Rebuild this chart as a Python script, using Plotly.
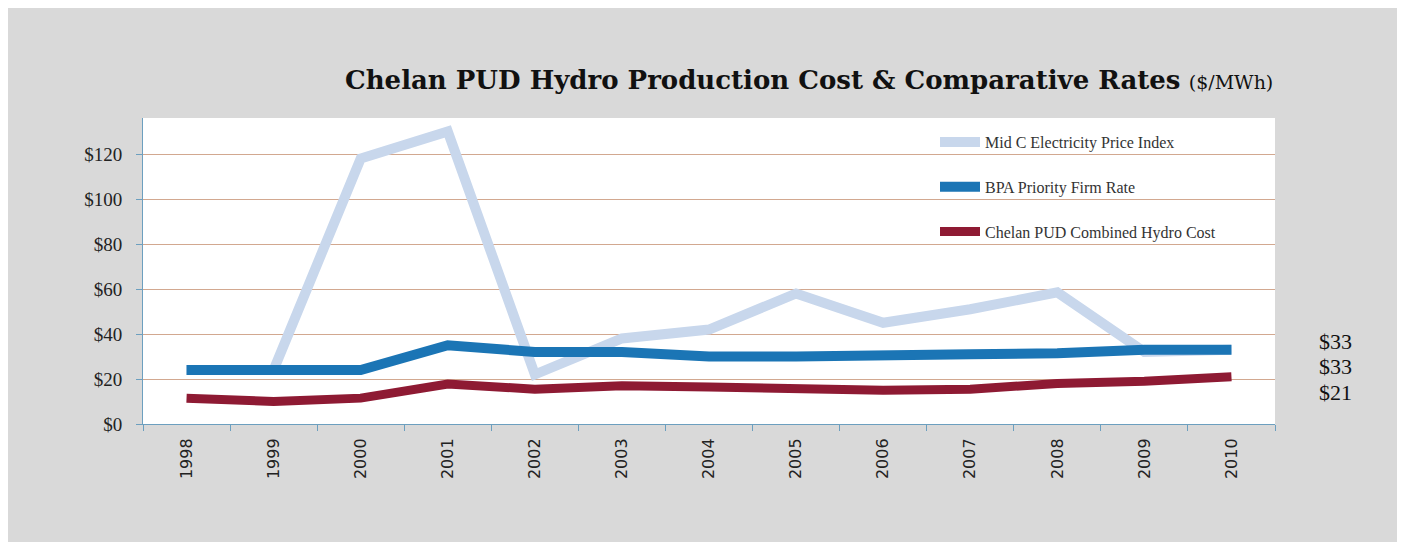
import plotly.graph_objects as go

years = ["1998", "1999", "2000", "2001", "2002", "2003", "2004", "2005", "2006", "2007", "2008", "2009", "2010"]
mid_c = [24, 24, 118, 130, 22, 38, 42, 58, 45, 51, 58.5, 32, 33]
bpa = [24, 24, 24, 35, 32, 32, 30, 30, 30, 31, 31.5, 33, 33]
chelan = [11.5, 10, 11.5, 17.8, 15.5, 17, 16.5, 15.5, 15, 15.5, 18, 19, 21]
y_ticks = [0, 20, 40, 60, 80, 100, 120]
y_tick_labels = ["$0", "$20", "$40", "$60", "$80", "$100", "$120"]

names = ["Mid C Electricity Price Index", "BPA Priority Firm Rate", "Chelan PUD Combined Hydro Cost"]
colors = ["#c8d7ec", "#1b75b5", "#8e1a33"]
widths = [10, 10, 9]

W, H = 1405, 542
OFF = 8  # page body margin
# plot area in screen pixels
L, R, T, B = 143 - OFF, 1275 - OFF, 118 - OFF, 424 - OFF


def px_x(p):
    return (p - OFF - L) / (R - L)


def px_y(p):
    return (B - (p - OFF)) / (B - T)


fig = go.Figure()
for i, (name, vals) in enumerate(zip(names, [mid_c, bpa, chelan])):
    fig.add_trace(go.Scatter(
        x=years, y=vals, mode="lines", name=name,
        line=dict(color=colors[i], width=widths[i]),
        legendgroup=f"g{i}",
    ))

axis_col = "#6c9fbf"
grid_col = "#d2a890"

fig.update_layout(
    width=W, height=H,
    margin=dict(l=L, r=W - R, t=T, b=H - B),
    paper_bgcolor="#d9d9d9",
    plot_bgcolor="#ffffff",
    showlegend=True,
    legend=dict(
        x=px_x(935), y=px_y(125), xanchor="left", yanchor="top",
        bgcolor="rgba(0,0,0,0)",
        font=dict(family="Liberation Serif", size=16, color="#333333"),
        tracegroupgap=21,
        itemwidth=40,
    ),
    xaxis=dict(
        type="category",
        showgrid=False,
        showline=True, linecolor=axis_col, linewidth=1,
        ticks="outside", ticklen=6, tickcolor=axis_col, tickson="boundaries",
        tickangle=-90,
        tickfont=dict(family="DejaVu Sans", size=16, color="#222222"),
        ticklabelstandoff=7,
        range=[-0.5, len(years) - 0.5],
    ),
    yaxis=dict(
        range=[0, (B - T) / 2.25],
        tickvals=y_ticks, ticktext=y_tick_labels,
        showgrid=True, gridcolor=grid_col, gridwidth=1,
        showline=True, linecolor=axis_col, linewidth=1,
        ticks="outside", ticklen=6, tickcolor=axis_col,
        tickfont=dict(family="Liberation Serif", size=19, color="#222222"),
        ticklabelstandoff=10,
        zeroline=False,
    ),
)

# Title
fig.add_annotation(
    xref="paper", yref="paper", x=1.0, y=px_y(80), xanchor="right", yanchor="middle",
    text="<b>Chelan PUD Hydro Production Cost &amp; Comparative Rates</b> <span style='font-size:19px'>($/MWh)</span>",
    showarrow=False,
    font=dict(family="DejaVu Serif", size=26, color="#111111"),
)

# Right-side value labels
for val, py in zip([mid_c[-1], bpa[-1], chelan[-1]], [341, 366, 392]):
    fig.add_annotation(
        xref="paper", yref="paper", x=px_x(1335), y=px_y(py), xanchor="center", yanchor="middle",
        text=f"${val:.0f}", showarrow=False,
        font=dict(family="Liberation Serif", size=22, color="#111111"),
    )

fig.write_html("out.html")
